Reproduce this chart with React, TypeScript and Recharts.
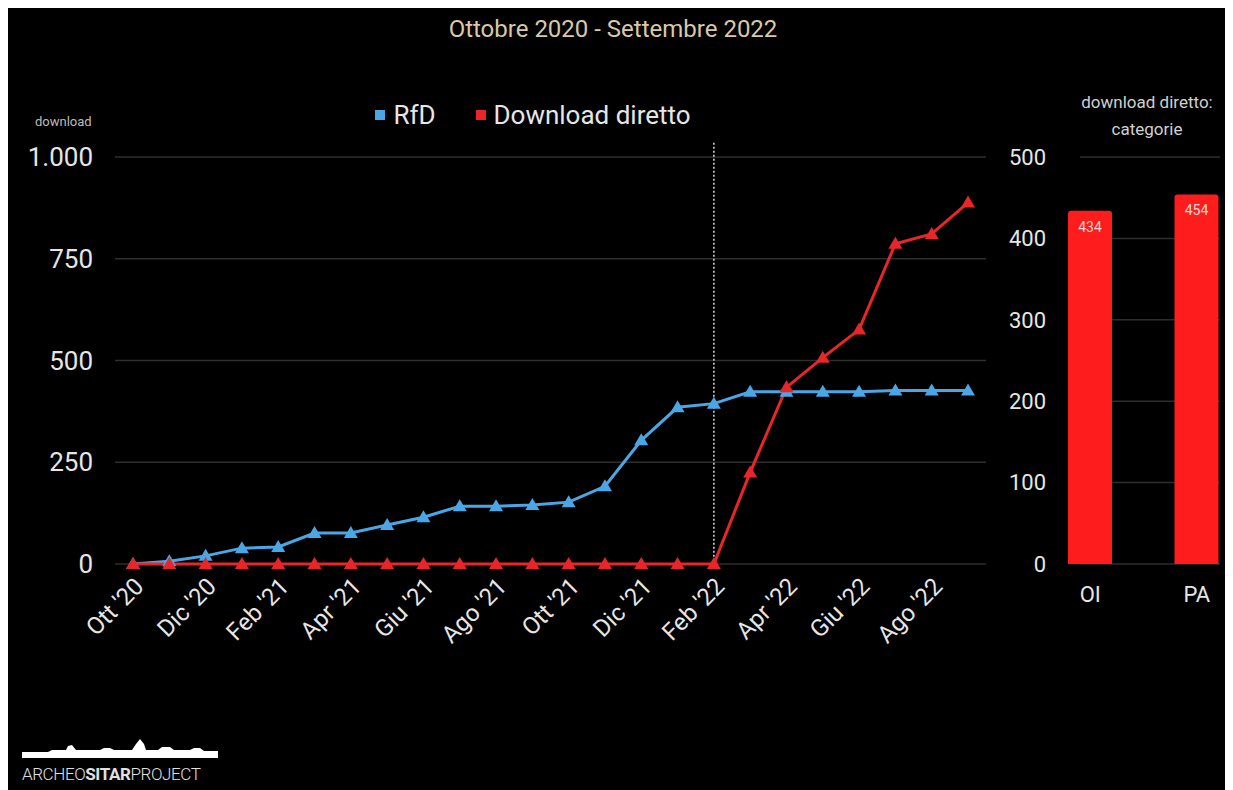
import {
  LineChart,
  Line,
  BarChart,
  Bar,
  XAxis,
  YAxis,
  CartesianGrid,
  Legend,
  ReferenceLine,
  LabelList,
} from "recharts"

const months = [
  "Ott '20", "Nov '20", "Dic '20", "Gen '21", "Feb '21", "Mar '21", "Apr '21", "Mag '21",
  "Giu '21", "Lug '21", "Ago '21", "Set '21", "Ott '21", "Nov '21", "Dic '21", "Gen '22",
  "Feb '22", "Mar '22", "Apr '22", "Mag '22", "Giu '22", "Lug '22", "Ago '22", "Set '22",
]
const rfd = [0, 7, 20, 39, 42, 76, 76, 96, 115, 142, 142, 145, 152, 191, 304, 385, 394, 423, 423, 423, 423, 426, 426, 426]
const direct = [0, 0, 0, 0, 0, 0, 0, 0, 0, 0, 0, 0, 0, 0, 0, 0, 0, 225, 434, 507, 576, 787, 811, 888]

const leftTicks = [0, 250, 500, 750, 1000]
const rightTicks = [0, 100, 200, 300, 400, 500]

const categories = ["OI", "PA"]
const categoryValues = [434, 454]

const lineData = months.map((m, i) => ({ month: m, rfd: rfd[i], direct: direct[i] }))
const barData = categories.map((c, i) => ({ name: c, value: categoryValues[i] }))

const BLUE = "#4ba6e6"
const RED = "#e8262a"
const TEXT = "#e6e6e6"
const GRID = "#2e2e2e"

const fmt = (v: number) => (v >= 1000 ? String(v).replace(/\B(?=(\d{3})+(?!\d))/g, ".") : String(v))

const triangle = (color: string) => (props: any) => {
  const { cx, cy, index } = props
  if (cx == null || cy == null) return <g key={index} />
  return (
    <path
      key={index}
      d={`M${cx},${cy - 7} L${cx + 7},${cy + 5} L${cx - 7},${cy + 5} Z`}
      fill={color}
    />
  )
}

const renderLegend = () => (
  <div style={{ display: "flex", justifyContent: "center", alignItems: "center", gap: 40 }}>
    {[
      { label: "RfD", color: BLUE },
      { label: "Download diretto", color: RED },
    ].map((it) => (
      <div key={it.label} style={{ display: "flex", alignItems: "center" }}>
        <span style={{ width: 10, height: 10, background: it.color, marginRight: 8, display: "inline-block" }} />
        <span style={{ color: TEXT, fontSize: 26 }}>{it.label}</span>
      </div>
    ))}
  </div>
)

export default function App() {
  return (
    <div
      style={{
        position: "relative",
        width: 1225,
        height: 782,
        background: "#000",
        fontFamily: "Roboto, 'Noto Sans', sans-serif",
        overflow: "hidden",
      }}
    >
      <style>{"html,body{overflow:hidden}"}</style>
      <div
        style={{
          position: "absolute",
          top: 7,
          left: 0,
          width: 1210,
          textAlign: "center",
          color: "#d9c9a6",
          fontSize: 24,
        }}
      >
        Ottobre 2020 - Settembre 2022
      </div>
      <div style={{ position: "absolute", top: 106, left: 27, color: "#bbb", fontSize: 13 }}>download</div>

      <div style={{ position: "absolute", top: 0, left: 0 }}>
        <LineChart width={1000} height={700} data={lineData} margin={{ top: 149, right: 22, bottom: 64, left: 0 }}>
          <CartesianGrid vertical={false} stroke={GRID} strokeWidth={1.5} />
          <XAxis
            dataKey="month"
            interval={1}
            angle={-45}
            textAnchor="end"
            height={80}
            padding={{ left: 18, right: 18 }}
            tickLine={false}
            axisLine={false}
            tickSize={0}
            tickMargin={12}
            tick={{ fill: TEXT, fontSize: 24 }}
          />
          <YAxis
            domain={[0, 1000]}
            ticks={leftTicks}
            width={107}
            tickLine={false}
            axisLine={false}
            tickSize={0}
            tickMargin={22}
            tickFormatter={fmt}
            tick={{ fill: TEXT, fontSize: 26 }}
          />
          <Legend
            layout="horizontal"
            verticalAlign="middle"
            align="center"
            content={renderLegend}
            wrapperStyle={{ top: 92, left: 300, width: 450 }}
          />
          <ReferenceLine
            segment={[
              { x: "Feb '22", y: 1035 },
              { x: "Feb '22", y: 0 },
            ]}
            ifOverflow="visible"
            stroke="#ddd"
            strokeWidth={1.5}
            strokeDasharray="2 2"
          />
          <Line
            dataKey="rfd"
            stroke={BLUE}
            strokeWidth={3}
            dot={triangle(BLUE)}
            activeDot={false}
            isAnimationActive={false}
          />
          <Line
            dataKey="direct"
            stroke={RED}
            strokeWidth={3}
            dot={triangle(RED)}
            activeDot={false}
            isAnimationActive={false}
          />
        </LineChart>
      </div>

      <div
        style={{
          position: "absolute",
          top: 81,
          left: 1049,
          width: 180,
          textAlign: "center",
          color: "#d0d0d0",
          fontSize: 17,
          lineHeight: "27px",
        }}
      >
        download diretto:
        <br />
        categorie
      </div>

      <div style={{ position: "absolute", top: 0, left: 960 }}>
        <BarChart width={265} height={700} data={barData} margin={{ top: 149, right: 13, bottom: 94, left: 0 }}>
          <CartesianGrid vertical={false} stroke={GRID} strokeWidth={1.5} />
          <XAxis
            dataKey="name"
            height={50}
            padding={{ left: -43, right: -30 }}
            tickLine={false}
            axisLine={false}
            tickSize={0}
            tickMargin={22}
            tick={{ fill: TEXT, fontSize: 22 }}
          />
          <YAxis
            domain={[0, 500]}
            ticks={rightTicks}
            width={112}
            tickLine={false}
            axisLine={false}
            tickSize={0}
            tickMargin={34}
            tick={{ fill: TEXT, fontSize: 22 }}
          />
          <Bar dataKey="value" fill="#ff1c1c" barSize={44} radius={[3, 3, 0, 0]} isAnimationActive={false}>
            <LabelList dataKey="value" position="insideTop" offset={11} fill="#f7d9d4" fontSize={14} />
          </Bar>
        </BarChart>
      </div>

      <svg style={{ position: "absolute", left: 0, top: 720 }} width={230} height={62}>
        <path
          d="M14,30 L14,24 L40,24 L44,22 L58,22 L60,18 L64,17 L68,22 L92,22 L96,20 L102,20 L106,22 L124,22 L128,16 L132,11 L136,16 L138,22 L150,22 L154,19 L162,19 L166,22 L182,22 L186,20 L192,20 L196,23 L210,23 L210,30 Z"
          fill="#fff"
        />
        <text x={14} y={52} fontSize={17} fill="#e0e0e0" letterSpacing={-0.4} fontFamily="Roboto, sans-serif">
          <tspan fontWeight={300}>ARCHEO</tspan>
          <tspan fontWeight={700}>SITAR</tspan>
          <tspan fontWeight={300}>PROJECT</tspan>
        </text>
      </svg>
    </div>
  )
}
